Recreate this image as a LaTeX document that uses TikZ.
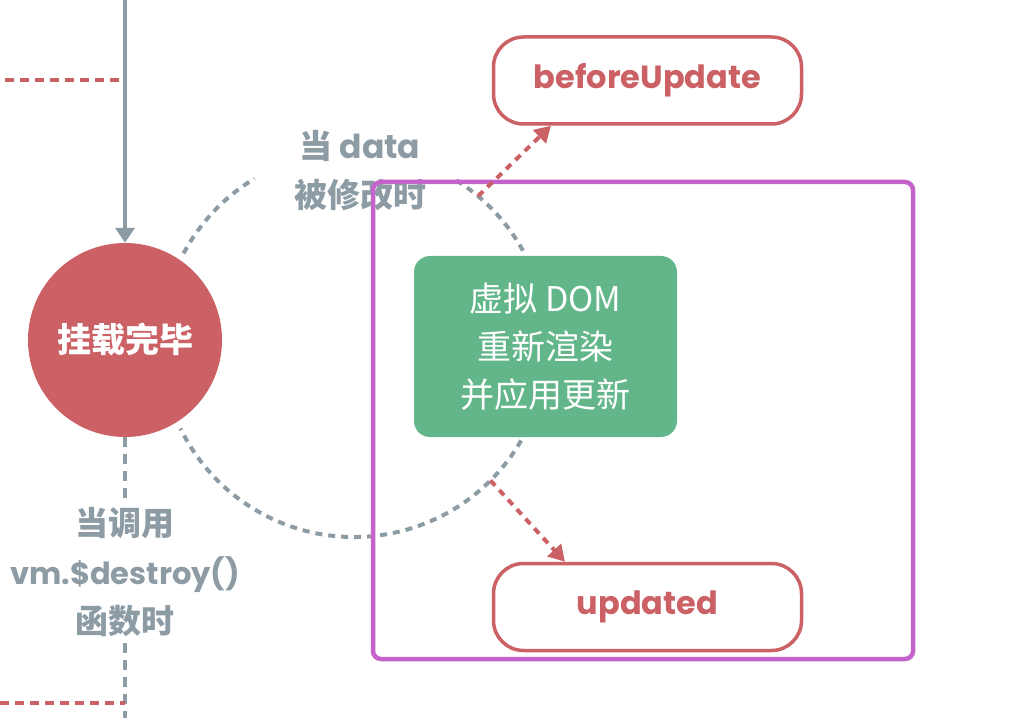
\documentclass[tikz,border=0pt]{standalone}
\usepackage{fontspec}
\setmainfont{Poppins}
\newfontfamily\cjk{Noto Sans CJK SC}
\usetikzlibrary{arrows.meta,calc}
\definecolor{hookred}{HTML}{CB6065}
\definecolor{flowgray}{HTML}{8D9BA5}
\definecolor{rendergreen}{HTML}{62B689}
\definecolor{framepurple}{HTML}{C464CA}

\begin{document}
\begin{tikzpicture}[
    x=1pt, y=1pt,
    hook_node/.style={rectangle, rounded corners=30pt, draw=hookred, line width=3.5pt, fill=white, minimum width=308pt, minimum height=87pt, text=hookred, font=\fontsize{32}{40}\selectfont\bfseries},
    mount_node/.style={circle, fill=hookred, minimum size=194pt, inner sep=0pt, text=white, font=\fontsize{34}{40}\selectfont\cjk\bfseries},
    render_node/.style={rectangle, rounded corners=16pt, fill=rendergreen, minimum width=263pt, minimum height=181pt, text=white, align=center, font=\fontsize{34}{48}\selectfont\cjk},
    note_lbl/.style={text=flowgray, align=center, font=\fontsize{33}{49}\selectfont\bfseries, inner sep=6pt},
    flow_arrow/.style={draw=flowgray, line width=4pt, -{Triangle[width=19pt,length=15pt]}},
    gray_dash/.style={draw=flowgray, line width=4pt, dash pattern=on 7pt off 6pt},
    red_dash/.style={draw=hookred, line width=3.5pt, dash pattern=on 9pt off 6pt},
    red_arrow/.style={draw=hookred, line width=4pt, dash pattern=on 7pt off 6pt, -{Triangle[width=18pt,length=16pt]}}
]
    \useasboundingbox (0,0) rectangle (1032,718);

    % Lifecycle Nodes
    \node[mount_node] (mounted) at (125,378) {挂载完毕};
    \node[hook_node] (before) at (647.5,637.5) {beforeUpdate};
    \node[hook_node] (updated) at (647.5,111) {updated};
    \node[render_node] (render) at (545.5,371.5) {虚拟 DOM\\重新渲染\\并应用更新};
    \node[note_lbl] (datalbl) at (360,547) {{\cjk 当} data\\{\cjk 被修改时}};
    \node[note_lbl] (destroylbl) at (125,146) {{\cjk 当调用}\\{\fontsize{30.5}{49}\selectfont vm.\$destroy()}\\{\cjk 函数时}};

    % Helper Coordinates
    \coordinate (top) at (125,718);
    \coordinate (bottom) at (125,0);
    \coordinate (ring) at (354,374);
    \coordinate (ctop_l) at (5,638);
    \coordinate (ctop_r) at (122,638);
    \coordinate (cbot_l) at (0,15);
    \coordinate (cbot_r) at (125,15);
    \coordinate (before_src) at ([shift={(50:193)}]ring);
    \coordinate (updated_src) at ([shift={(-45:193)}]ring);

    % Update Loop
    \draw[gray_dash] ([shift={(152:193)}]ring) arc[start angle=152, end angle=121, radius=193];
    \draw[gray_dash] ([shift={(58:193)}]ring) arc[start angle=58, end angle=28, radius=193];
    \draw[gray_dash] ([shift={(-30:193)}]ring) arc[start angle=-30, end angle=-154, radius=193];

    % Main Flow
    \draw[flow_arrow] (top) -- (mounted);
    \draw[red_dash] (ctop_l) -- (ctop_r);
    \draw[gray_dash, line width=3.5pt, dash pattern=on 10pt off 7pt] (mounted) -- (destroylbl);
    \draw[gray_dash, line width=3.5pt, dash pattern=on 10pt off 7pt] (destroylbl) -- (bottom);
    \draw[red_dash] (cbot_l) -- (cbot_r);

    % Update Frame
    \draw[framepurple, line width=4.5pt, rounded corners=8pt] (373,59) rectangle (913,536);

    % Hook Transitions
    \draw[red_arrow] (before_src) -- ($(before.south west)!0.19!(before.south east)$);
    \draw[red_arrow] (updated_src) -- ($(updated.north west)!0.235!(updated.north east)$);
\end{tikzpicture}
\end{document}
